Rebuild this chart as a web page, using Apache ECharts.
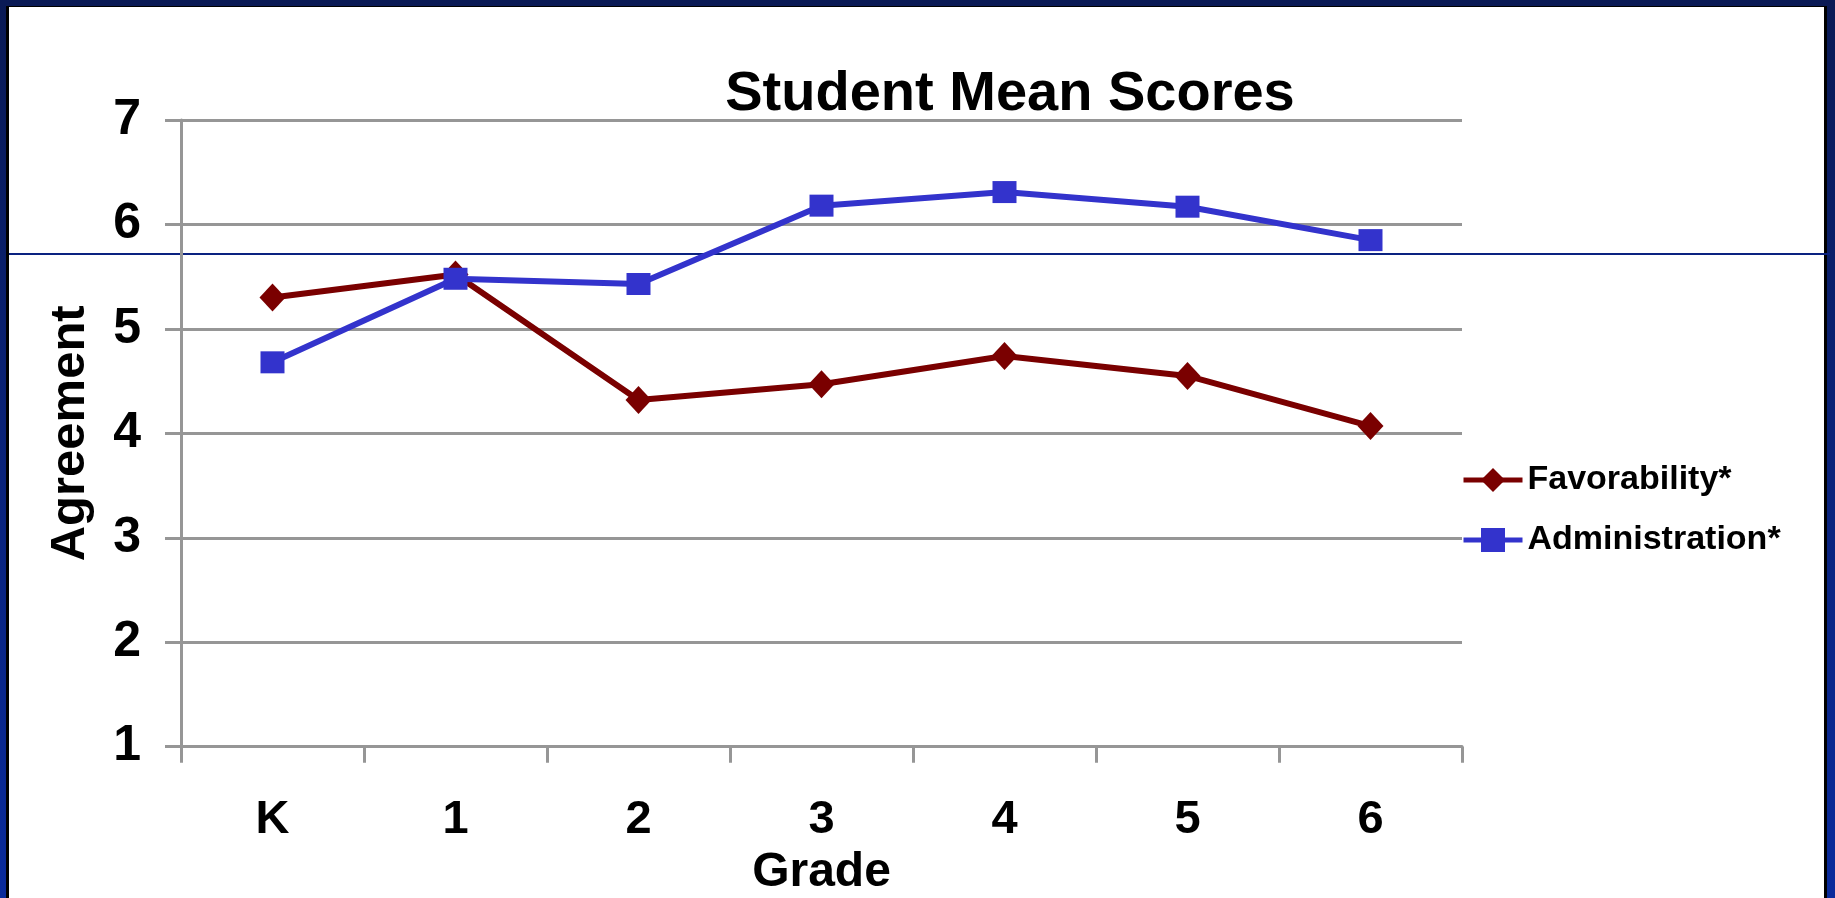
<!DOCTYPE html>
<html>
<head>
<meta charset="utf-8">
<script src="https://cdn.jsdelivr.net/npm/echarts@6/dist/echarts.min.js"></script>
<style>
  html, body { margin: 0; padding: 0; width: 1835px; height: 898px; overflow: hidden;
    background: linear-gradient(to bottom, #0a1a55, #0a2b9c); }
  #frame { position: absolute; left: 6px; top: 6px; width: 1821px; height: 892px;
    background: #ffffff; border-left: 3px solid #000; border-right: 3px solid #000; border-top: 1px solid #000; box-sizing: border-box; }
  #scanline { position: absolute; left: 9px; top: 253px; width: 1821px; height: 2px; background: #0a2280; }
  #chart { position: absolute; left: 0; top: 0; width: 1835px; height: 898px; }
</style>
</head>
<body>
<div id="frame"></div>
<div id="scanline"></div>
<div id="chart"></div>
<script>
const titleText = 'Student Mean Scores';
const grades = ['K', '1', '2', '3', '4', '5', '6'];
const favorability = [5.30, 5.52, 4.32, 4.47, 4.74, 4.55, 4.07];
const administration = [4.68, 5.48, 5.43, 6.18, 6.31, 6.17, 5.85];
const seriesNames = ['Favorability*', 'Administration*'];
const yAxisName = 'Agreement';
const xAxisName = 'Grade';

const font = '"Liberation Sans", Arial, sans-serif';
const gray = '#969696';

const chart = echarts.init(document.getElementById('chart'), null, { renderer: 'canvas' });
chart.setOption({
  backgroundColor: 'transparent',
  animation: false,
  textStyle: { fontFamily: font },
  title: {
    text: titleText,
    left: 1005,
    textAlign: 'center',
    top: 62,
    textStyle: { fontFamily: font, fontWeight: 'bold', fontSize: 56, color: '#000' }
  },
  legend: {
    orient: 'vertical',
    left: 1461,
    top: 463,
    padding: 0,
    itemWidth: 59,
    itemHeight: 30,
    itemGap: 26,
    data: seriesNames,
    lineStyle: { width: 5 },
    textStyle: { fontFamily: font, fontWeight: 'bold', fontSize: 34, color: '#000' }
  },
  grid: { left: 181, right: 373, top: 120, bottom: 151.3, containLabel: false, outerBoundsMode: 'none' },
  xAxis: {
    type: 'category',
    data: grades,
    boundaryGap: true,
    name: xAxisName,
    nameLocation: 'middle',
    nameGap: 93,
    nameTextStyle: { fontFamily: font, fontWeight: 'bold', fontSize: 48, color: '#000' },
    axisLine: { show: true, lineStyle: { color: gray, width: 3 } },
    axisTick: { show: true, length: 16, alignWithLabel: false, lineStyle: { color: gray, width: 3 } },
    axisLabel: { margin: 50, fontFamily: font, fontWeight: 'bold', fontSize: 47, color: '#000' },
    splitLine: { show: false }
  },
  yAxis: {
    type: 'value',
    min: 1,
    max: 7,
    interval: 1,
    name: yAxisName,
    nameLocation: 'middle',
    nameGap: 86,
    nameRotate: 90,
    nameTextStyle: { fontFamily: font, fontWeight: 'bold', fontSize: 49, color: '#000' },
    axisLine: { show: true, lineStyle: { color: gray, width: 3 } },
    axisTick: { show: true, length: 16, lineStyle: { color: gray, width: 3 } },
    axisLabel: { margin: 40, fontFamily: font, fontWeight: 'bold', fontSize: 50, color: '#000' },
    splitLine: { show: true, lineStyle: { color: gray, width: 3 } }
  },
  series: [
    {
      name: seriesNames[0],
      type: 'line',
      data: favorability,
      symbol: 'diamond',
      symbolSize: [26, 28],
      color: '#7a0000',
      itemStyle: { color: '#7a0000' },
      lineStyle: { color: '#7a0000', width: 6 },
      z: 3
    },
    {
      name: seriesNames[1],
      type: 'line',
      data: administration,
      symbol: 'rect',
      symbolSize: [24, 22],
      color: '#3333cc',
      itemStyle: { color: '#3333cc' },
      lineStyle: { color: '#3333cc', width: 6 },
      z: 4
    }
  ]
});
</script>
</body>
</html>
